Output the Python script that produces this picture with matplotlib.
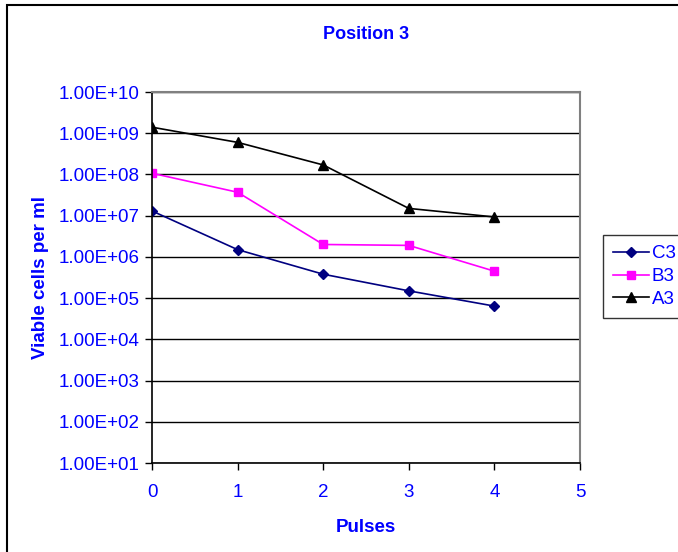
import matplotlib.pyplot as plt
from matplotlib.ticker import FuncFormatter, FixedLocator
from matplotlib.patches import Rectangle

plt.rcParams['font.family'] = ['Liberation Sans', 'DejaVu Sans']

pulses = [0, 1, 2, 3, 4]
c3 = [1.3e7, 1.5e6, 3.8e5, 1.5e5, 6.4e4]
b3 = [1.07e8, 3.7e7, 2.0e6, 1.9e6, 4.5e5]
a3 = [1.4e9, 6.0e8, 1.7e8, 1.5e7, 9.3e6]

blue = '#0000FF'

fig = plt.figure(figsize=(6.78, 5.52), dpi=100)
ax = fig.add_axes([152/678, (552-463)/552, 428/678, 371/552])

ax.plot(pulses, c3, color='#000080', marker='D', markersize=5, lw=1.2, label='C3')
ax.plot(pulses, b3, color='#FF00FF', marker='s', markersize=6, lw=1.2, label='B3')
ax.plot(pulses, a3, color='black', marker='^', markersize=7, lw=1.2, label='A3')

ax.set_yscale('log')
ax.set_ylim(1e1, 1e10)
ax.set_xlim(0, 5)
ax.yaxis.set_major_locator(FixedLocator([10.0 ** k for k in range(1, 11)]))
ax.yaxis.set_minor_locator(FixedLocator([]))
ax.yaxis.set_major_formatter(FuncFormatter(lambda v, p: f"{v:.2E}"))
ax.set_xticks(range(6))
ax.grid(axis='y', color='black', lw=1)
ax.set_axisbelow(True)

# plot area border grey, axis lines black
for s in ['top', 'right']:
    ax.spines[s].set_color('#808080')
    ax.spines[s].set_linewidth(1.5)
for s in ['left', 'bottom']:
    ax.spines[s].set_color('black')
    ax.spines[s].set_linewidth(1.2)

ax.tick_params(axis='both', colors='black', labelcolor=blue, labelsize=13.5,
               direction='out', length=5, width=1)
ax.tick_params(axis='y', pad=4)
ax.tick_params(axis='x', pad=10)

ax.set_title('Position 3', color=blue, fontsize=13, fontweight='bold', pad=38)
ax.set_xlabel('Pulses', color=blue, fontsize=13.5, fontweight='bold', labelpad=13)
ax.set_ylabel('Viable cells per ml', color=blue, fontsize=13.5, fontweight='bold', labelpad=7)

leg = fig.legend(loc='upper left', bbox_to_anchor=(603/678, 1 - 235/552),
                 fontsize=13.5, frameon=True, fancybox=False, handlelength=1.9,
                 borderpad=0.55, labelspacing=0.3, handletextpad=0.15, borderaxespad=0)
leg.get_frame().set_edgecolor('black')
leg.get_frame().set_linewidth(1)
for t in leg.get_texts():
    t.set_color(blue)

# chart area border, cut off at right and bottom
fig.patches.append(Rectangle((7/678, -0.1), 1.2, 1 - 5/552 + 0.1, transform=fig.transFigure,
                             fill=False, edgecolor='black', lw=1.5))

fig.savefig('out.png', dpi=100)
